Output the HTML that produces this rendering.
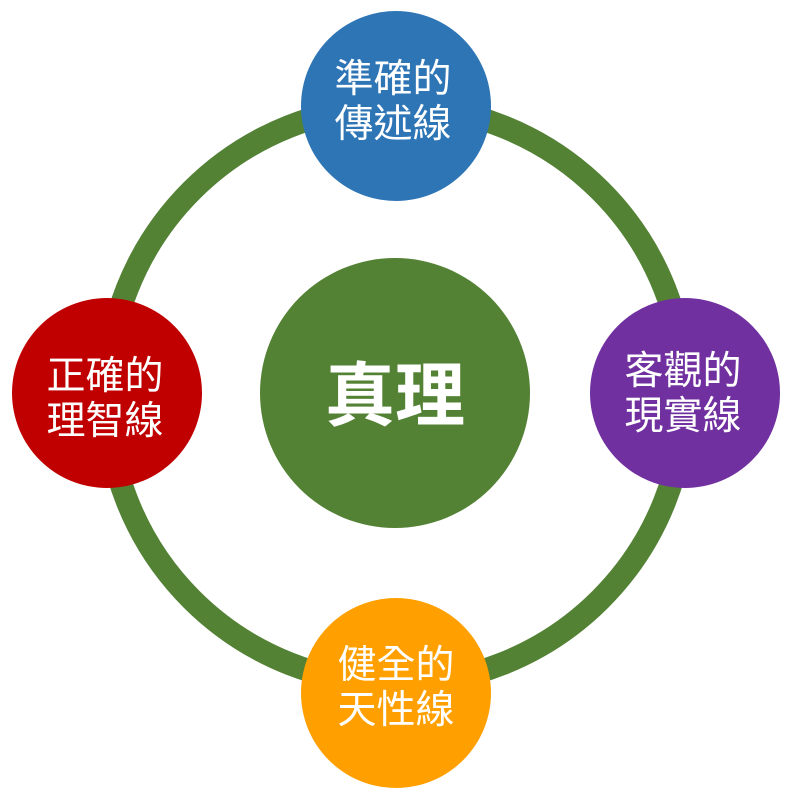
<!DOCTYPE html>
<html><head><meta charset="utf-8"><style>
html,body{margin:0;padding:0;background:#fff;}
body{width:800px;height:790px;overflow:hidden;}
text{font-family:"Liberation Sans","Noto Sans CJK TC",sans-serif;fill:#fff;text-anchor:middle;}
</style></head><body>
<svg width="800" height="790" viewBox="0 0 800 790">
<circle cx="396" cy="395" r="289" fill="none" stroke="#548235" stroke-width="23"/>
<circle cx="395" cy="393" r="135" fill="#548235"/>
<text x="395" y="420" font-size="70" font-weight="bold">真理</text>
<circle cx="396" cy="106" r="95" fill="#2E75B6"/>
<text x="393" y="92" font-size="39">準確的</text>
<text x="393" y="137" font-size="39">傳述線</text>
<circle cx="685" cy="393" r="95" fill="#7030A0"/>
<text x="683" y="384" font-size="39">客觀的</text>
<text x="683" y="429" font-size="39">現實線</text>
<circle cx="396" cy="693" r="95" fill="#FFA000"/>
<text x="396" y="678" font-size="39">健全的</text>
<text x="396" y="723" font-size="39">天性線</text>
<circle cx="107" cy="393" r="95" fill="#C00000"/>
<text x="105" y="389" font-size="39">正確的</text>
<text x="105" y="434" font-size="39">理智線</text>
</svg>
</body></html>
